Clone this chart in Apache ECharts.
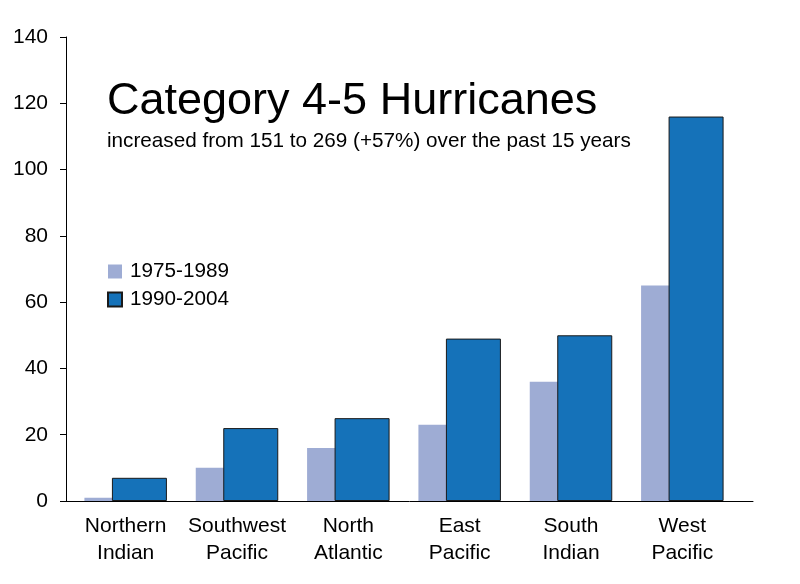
<!DOCTYPE html>
<html>
<head>
<meta charset="utf-8">
<script src="https://cdn.jsdelivr.net/npm/echarts@6/dist/echarts.min.js"></script>
<style>
html, body { margin:0; padding:0; background:#fff; }
#chart_a { width:800px; height:584px; }
</style>
</head>
<body>
<div id="chart_a"></div>
<script>
var regions = ['Northern\nIndian', 'Southwest\nPacific', 'North\nAtlantic', 'East\nPacific', 'South\nIndian', 'West\nPacific'];
var early = [1, 10, 16, 23, 36, 65];      // 1975-1989
var late = [7, 22, 25, 49, 50, 116];      // 1990-2004
var yTicks = { min: 0, max: 140, interval: 20 };

var font = 'Liberation Sans, Arial, sans-serif';
var mychart1 = echarts.init(document.getElementById('chart_a'));

var option1 = {
	backgroundColor: '#fff',
	animation: false,
	title: [{
		text: 'Category 4-5 Hurricanes',
		left: 107,
		top: 79,
		padding: 0,
		textStyle: { fontFamily: font, fontSize: 45, fontWeight: 'normal', color: '#000' }
	}, {
		text: 'increased from 151 to 269 (+57%) over the past 15 years',
		left: 107,
		top: 131,
		padding: 0,
		textStyle: { fontFamily: font, fontSize: 20.7, fontWeight: 'normal', color: '#000' }
	}],
	legend: {
		orient: 'vertical',
		left: 107,
		top: 261,
		padding: 0,
		itemWidth: 14,
		itemHeight: 14,
		itemGap: 7,
		icon: 'rect',
		data: ['1975-1989', '1990-2004'],
		textStyle: { fontFamily: font, fontSize: 20.7, color: '#000', padding: [0, 0, 0, 3] }
	},
	grid: [
		// bars
		{ left: 70, right: 62, top: 37, bottom: 83 },
		// axis lines
		{ left: 66, right: 47, top: 37, bottom: 83 }
	],
	xAxis: [{
		type: 'category',
		gridIndex: 0,
		data: regions,
		axisLine: { show: false },
		axisTick: { show: false },
		axisLabel: { interval: 0, fontFamily: font, fontSize: 21, color: '#000', lineHeight: 27, margin: 12 }
	}, {
		type: 'category',
		gridIndex: 1,
		data: regions,
		axisLine: { lineStyle: { color: '#000', width: 1 } },
		axisTick: { show: false },
		axisLabel: { show: false }
	}],
	yAxis: [{
		type: 'value',
		gridIndex: 0,
		min: yTicks.min, max: yTicks.max, interval: yTicks.interval,
		show: false,
		splitLine: { show: false }
	}, {
		type: 'value',
		gridIndex: 1,
		min: yTicks.min, max: yTicks.max, interval: yTicks.interval,
		axisLine: { show: true, lineStyle: { color: '#000', width: 1 } },
		axisTick: { show: true, length: 6, lineStyle: { color: '#000' } },
		axisLabel: { fontFamily: font, fontSize: 21, color: '#000', margin: 18 },
		splitLine: { show: false }
	}],
	series: [{
		name: '1975-1989',
		type: 'bar',
		xAxisIndex: 0,
		yAxisIndex: 0,
		barWidth: 55,
		barGap: '-50%',
		itemStyle: { color: '#9eacd4' },
		data: early
	}, {
		name: '1990-2004',
		type: 'bar',
		xAxisIndex: 0,
		yAxisIndex: 0,
		barWidth: 55,
		barGap: '-50%',
		itemStyle: { color: '#1572b9', borderColor: '#1a1a1a', borderWidth: 1 },
		data: late
	}]
};
mychart1.setOption(option1, true);
</script>
</body>
</html>
